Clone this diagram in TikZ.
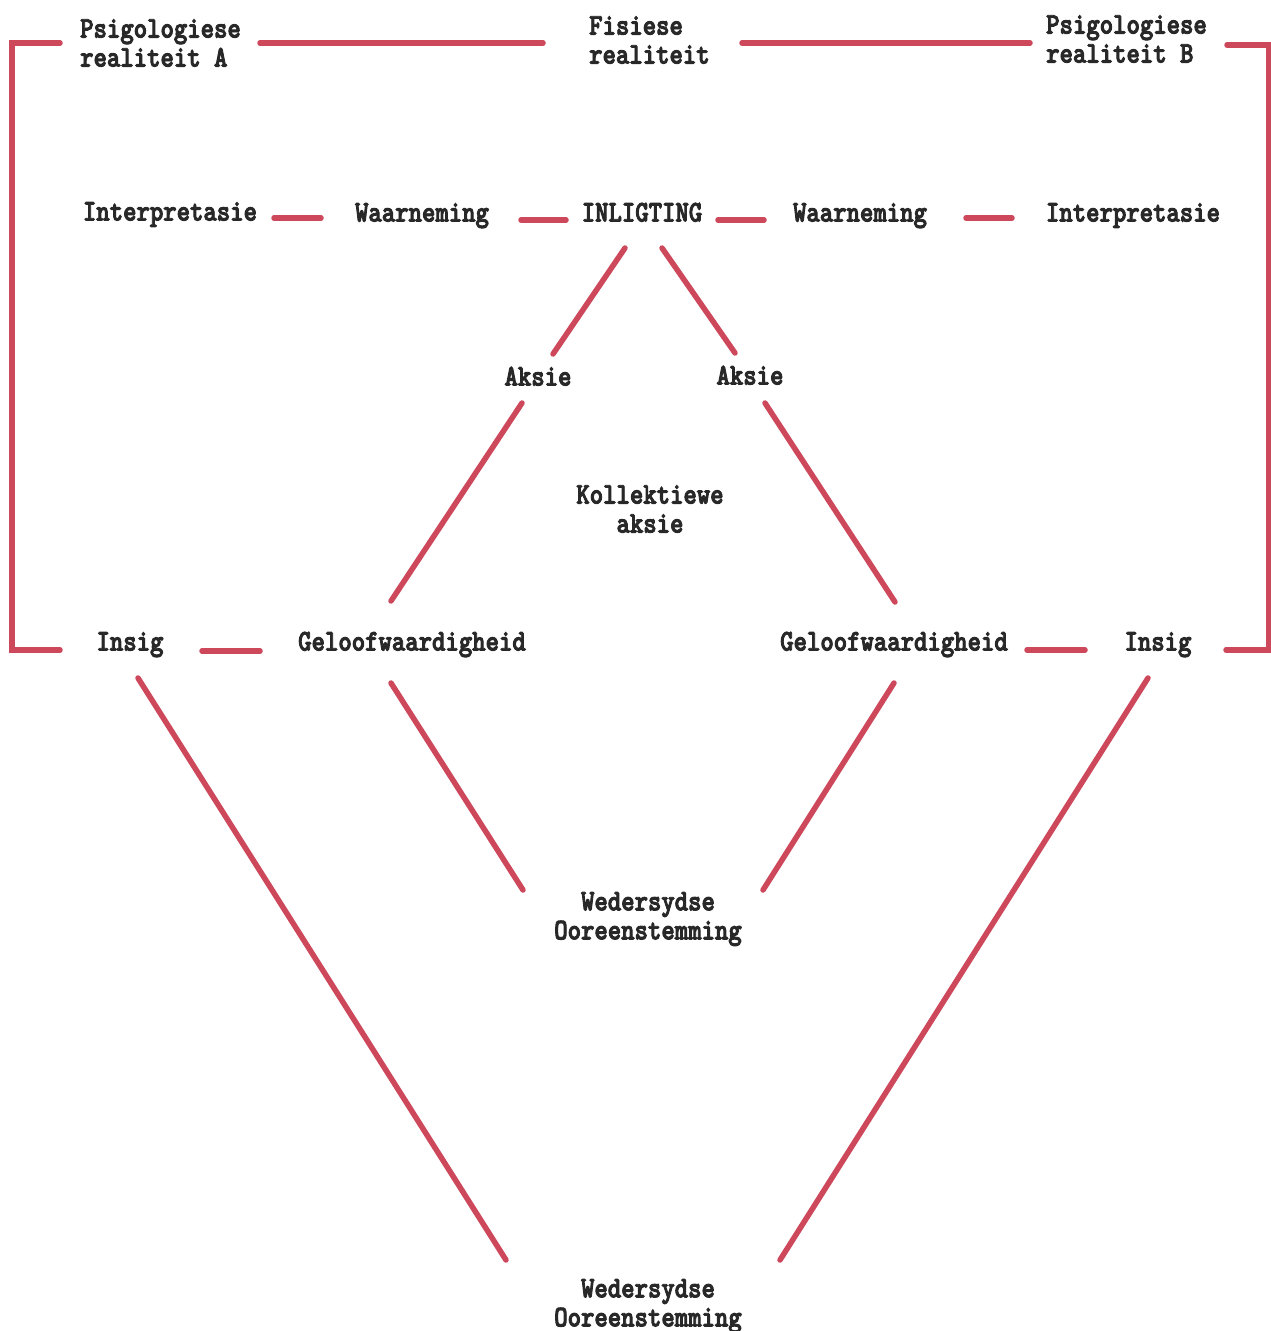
\documentclass[tikz,border=0pt]{standalone}
\usepackage{fontspec}
\newfontfamily\twfont[FakeStretch=0.85,FakeBold=3]{Latin Modern Mono Light}
\usetikzlibrary{calc}
\definecolor{linered}{RGB}{206,72,92}
\definecolor{ink}{RGB}{40,40,40}
\tikzset{
  lbl/.style={font=\fontsize{30}{29}\selectfont\twfont\bfseries, text=ink, inner sep=0pt, text height=22pt, text depth=3pt},
  mlbl/.style={font=\fontsize{30}{29}\selectfont\twfont\bfseries, text=ink, inner sep=0pt},
  con/.style={draw=linered, line width=5.5pt, line cap=round}
}
\begin{document}
\begin{tikzpicture}[x=1pt,y=-1pt]
\useasboundingbox[fill=white] (0,0) rectangle (1271,1331);
% top row
\node[mlbl, anchor=west, align=left] (psyA) at (80,43) {Psigologiese\\realiteit A};
\node[mlbl, anchor=west, align=left] (fis) at (589,40) {Fisiese\\realiteit};
\node[mlbl, anchor=west, align=left] (psyB) at (1046,39) {Psigologiese\\realiteit B};
% second row
\node[lbl] (interpA) at (170,211) {Interpretasie};
\node[lbl] (waarA) at (422,212) {Waarneming};
\node[lbl] (inlig) at (642,212) {INLIGTING};
\node[lbl] (waarB) at (860,212) {Waarneming};
\node[lbl] (interpB) at (1133,212) {Interpretasie};
% aksie
\node[lbl] (aksL) at (538,376) {Aksie};
\node[lbl] (aksR) at (750,375) {Aksie};
\node[mlbl, align=center] (koll) at (650,509) {Kollektiewe\\aksie};
% third row
\node[lbl] (insA) at (130,641) {Insig};
\node[lbl] (gelA) at (412,641) {Geloofwaardigheid};
\node[lbl] (gelB) at (894,641) {Geloofwaardigheid};
\node[lbl] (insB) at (1158,641) {Insig};
% bottom
\node[mlbl, align=center] (wed1) at (648,919) {Wedersydse\\Ooreenstemming};
\node[mlbl, align=center] (wed2) at (648,1306) {Wedersydse\\Ooreenstemming};

% top connectors
\draw[con] ($(psyA.west)+(180,0)$) -- ($(fis.west)+(-46,3)$);
\draw[con] ($(fis.west)+(153,3)$) -- ($(psyB.west)+(-16,4)$);
% brackets
\draw[con] ($(psyA.west)+(-20,0)$) -- ($(psyA.west)+(-68,0)$) -- ($(insA.center)+(-118,9)$) -- ($(insA.center)+(-70,9)$);
\draw[con] ($(psyB.west)+(181,6)$) -- ($(psyB.west)+(223,6)$) -- ($(insB.center)+(111,9)$) -- ($(insB.center)+(68,9)$);
% second row dashes
\draw[con] ($(interpA.center)+(104,7)$) -- ($(waarA.center)+(-101,6)$);
\draw[con] ($(waarA.center)+(99,8)$) -- ($(inlig.center)+(-76,8)$);
\draw[con] ($(inlig.center)+(76,8)$) -- ($(waarB.center)+(-96,8)$);
\draw[con] ($(waarB.center)+(106,6)$) -- ($(interpB.center)+(-121,6)$);
% diagonals
\draw[con] ($(inlig.center)+(-17,36)$) -- ($(aksL.center)+(15,-22)$);
\draw[con] ($(inlig.center)+(20,36)$) -- ($(aksR.center)+(-15,-22)$);
\draw[con] ($(aksL.center)+(-16,27)$) -- ($(gelA.center)+(-21,-40)$);
\draw[con] ($(aksR.center)+(15,28)$) -- ($(gelB.center)+(1,-39)$);
% third row dashes
\draw[con] ($(insA.center)+(72,10)$) -- ($(gelA.center)+(-152,10)$);
\draw[con] ($(gelB.center)+(133,9)$) -- ($(insB.center)+(-73,9)$);
% lower connectors
\draw[con] ($(gelA.center)+(-21,42)$) -- ($(wed1.center)+(-125,-29)$);
\draw[con] ($(gelB.center)+(0,42)$) -- ($(wed1.center)+(115,-29)$);
\draw[con] ($(insA.center)+(8,37)$) -- ($(wed2.center)+(-142,-46)$);
\draw[con] ($(insB.center)+(-10,37)$) -- ($(wed2.center)+(132,-46)$);
\end{tikzpicture}
\end{document}
